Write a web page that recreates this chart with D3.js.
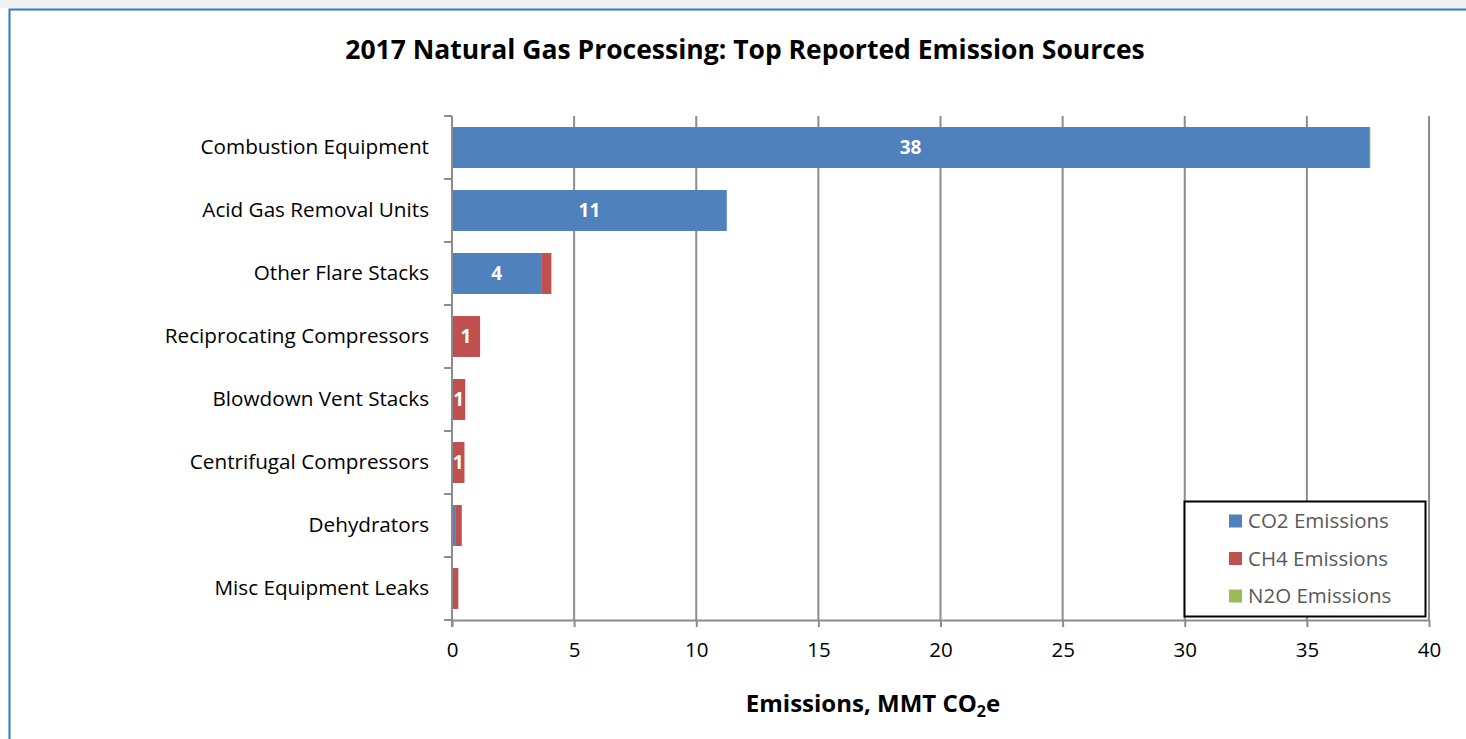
<!DOCTYPE html>
<html>
<head>
<meta charset="utf-8">
<script src="https://cdn.jsdelivr.net/npm/d3@7"></script>
<style>
  html, body { margin: 0; padding: 0; background: #fff; }
  svg { display: block; }
</style>
</head>
<body>
<svg id="chart" width="1466" height="739"></svg>
<script>
// Emission sources, top to bottom
const categories = [
  "Combustion Equipment",
  "Acid Gas Removal Units",
  "Other Flare Stacks",
  "Reciprocating Compressors",
  "Blowdown Vent Stacks",
  "Centrifugal Compressors",
  "Dehydrators",
  "Misc Equipment Leaks"
];
// MMT CO2e per gas
const co2 = [37.55, 11.25, 3.65, 0.0, 0.0, 0.0, 0.13, 0.0];
const ch4 = [0.03, 0.0, 0.42, 1.15, 0.54, 0.51, 0.27, 0.26];
const n2o = [0.02, 0.0, 0.0, 0.0, 0.0, 0.0, 0.0, 0.0];
const seriesNames = ["CO2 Emissions", "CH4 Emissions", "N2O Emissions"];
const seriesColors = ["#4f81bd", "#c0504d", "#9bbb59"];
const xTicks = [0, 5, 10, 15, 20, 25, 30, 35, 40];

const svg = d3.select("#chart");
const W = 1466, H = 739;
const font = "'Open Sans', sans-serif";

// Page frame
svg.append("rect").attr("x", 0).attr("y", 0).attr("width", W).attr("height", 8).attr("fill", "#eef0f2");
svg.append("rect").attr("x", 9.5).attr("y", 9.5).attr("width", W + 20).attr("height", H + 20)
  .attr("fill", "none").attr("stroke", "#2b7bc4").attr("stroke-width", 2);

const plot = { left: 452, right: 1429, top: 116, bottom: 620 };

const x = d3.scaleLinear().domain([0, 40]).range([plot.left, plot.right]);
const y = d3.scaleBand().domain(categories).range([plot.top, plot.bottom]).paddingInner(0.35).paddingOuter(0.175);

// Title
svg.append("text").attr("x", 745).attr("y", 59).attr("text-anchor", "middle")
  .attr("font-family", font).attr("font-weight", "bold").attr("font-size", 26.5).attr("fill", "#000")
  .text("2017 Natural Gas Processing: Top Reported Emission Sources");

// Vertical gridlines
svg.append("g").selectAll("line").data(xTicks.slice(1)).join("line")
  .attr("x1", d => x(d)).attr("x2", d => x(d))
  .attr("y1", plot.top).attr("y2", plot.bottom)
  .attr("stroke", "#8c8c8c").attr("stroke-width", 2);

// Stacked bars
const rows = categories.map((c, i) => ({ cat: c, v: [co2[i], ch4[i], n2o[i]] }));
const stack = d3.stack().keys([0, 1, 2]).value((d, k) => d.v[k]);
const layers = stack(rows);

const gBars = svg.append("g");
layers.forEach((layer, k) => {
  gBars.append("g").attr("fill", seriesColors[k])
    .selectAll("rect").data(layer).join("rect")
    .attr("x", d => x(d[0]))
    .attr("y", d => y(d.data.cat))
    .attr("width", d => Math.max(0, x(d[1]) - x(d[0])))
    .attr("height", y.bandwidth());
});

// Data labels for segments of at least half a unit
const gLabels = svg.append("g");
layers.forEach((layer, k) => {
  gLabels.selectAll(null).data(layer.filter(d => d[1] - d[0] >= 0.5)).join("text")
    .attr("x", d => (x(d[0]) + x(d[1])) / 2)
    .attr("y", d => y(d.data.cat) + y.bandwidth() / 2)
    .attr("dy", "0.36em")
    .attr("text-anchor", "middle")
    .attr("font-family", font).attr("font-weight", "bold").attr("font-size", 19).attr("fill", "#fff")
    .text(d => d3.format(".0f")(d[1] - d[0]));
});

// X axis
const xAxis = svg.append("g").attr("transform", `translate(0,${plot.bottom})`)
  .call(d3.axisBottom(x).tickValues(xTicks).tickSize(7).tickPadding(15).tickSizeOuter(0));
xAxis.select(".domain").attr("stroke", "#8c8c8c").attr("stroke-width", 2);
xAxis.selectAll(".tick line").attr("stroke", "#8c8c8c").attr("stroke-width", 2);
xAxis.selectAll(".tick text").attr("font-family", font).attr("font-size", 20.5).attr("fill", "#000");

// Y axis with ticks on category boundaries
const yAxisG = svg.append("g").attr("transform", `translate(${plot.left},0)`)
  .call(d3.axisLeft(y).tickSize(0).tickPadding(23));
yAxisG.select(".domain").remove();
yAxisG.selectAll(".tick text").attr("font-family", font).attr("font-size", 20.7).attr("fill", "#000");
svg.append("line").attr("x1", plot.left).attr("x2", plot.left).attr("y1", plot.top).attr("y2", plot.bottom + 7)
  .attr("stroke", "#8c8c8c").attr("stroke-width", 2);
const step = y.step();
svg.append("g").selectAll("line").data(d3.range(categories.length + 1)).join("line")
  .attr("x1", plot.left - 8).attr("x2", plot.left)
  .attr("y1", i => plot.top + i * step).attr("y2", i => plot.top + i * step)
  .attr("stroke", "#8c8c8c").attr("stroke-width", 2);

// X axis title
const xt = svg.append("text").attr("x", 873).attr("y", 712).attr("text-anchor", "middle")
  .attr("font-family", font).attr("font-weight", "bold").attr("font-size", 24).attr("fill", "#000");
xt.append("tspan").text("Emissions, MMT CO");
xt.append("tspan").attr("font-size", 16).attr("dy", 5).text("2");
xt.append("tspan").attr("dy", -5).text("e");

// Legend
const lg = svg.append("g");
lg.append("rect").attr("x", 1184.5).attr("y", 501.5).attr("width", 241).attr("height", 115)
  .attr("fill", "#fff").attr("stroke", "#000").attr("stroke-width", 2);
seriesNames.forEach((name, k) => {
  const cy = 521 + k * 37.5;
  lg.append("rect").attr("x", 1229).attr("y", cy - 6.5).attr("width", 13).attr("height", 13).attr("fill", seriesColors[k]);
  lg.append("text").attr("x", 1248).attr("y", cy).attr("dy", "0.36em")
    .attr("font-family", font).attr("font-size", 20.5).attr("fill", "#595959").text(name);
});
</script>
</body>
</html>
